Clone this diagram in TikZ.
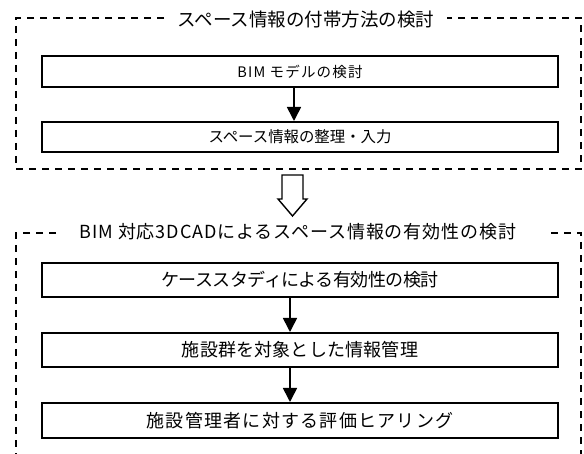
\documentclass[tikz,border=0pt]{standalone}
\usepackage{fontspec}
\newfontfamily\jp{Noto Sans CJK JP}
\usetikzlibrary{arrows.meta}
\tikzset{
  stepbox/.style={draw, line width=2pt, minimum width=516pt, inner sep=0pt, font=\jp},
  frameline/.style={line width=1.4pt, dash pattern=on 7pt off 6pt},
  flowarrow/.style={line width=1.6pt, -{Triangle[length=14pt,width=14pt]}},
  hollow/.style={line width=1.4pt, fill=white},
}
\begin{document}
\begin{tikzpicture}[x=1pt,y=-1pt]
\useasboundingbox[fill=white] (0,0) rectangle (584,454);

% frame 1
\draw[frameline] (164,18) -- (16,18) -- (16,169) -- (581,169) -- (581,18) -- (447,18);
\node[font={\jp\fontsize{18.5}{20}\selectfont}] (title1) at (306,19) {スペース情報の付帯方法の検討};

\node[stepbox, minimum height=31pt] (b1) at (300,71.5)
  {\fontsize{14.5}{16}\selectfont\addfontfeatures{LetterSpace=8}BIM モデルの検討};
\node[stepbox, minimum height=30pt] (b2) at (300,137)
  {\fontsize{15.4}{17}\selectfont スペース情報の整理・入力};
\draw[flowarrow] ([xshift=-6pt]b1.south) -- ([xshift=-6pt]b2.north);

% hollow arrow
\draw[hollow, line join=miter] (282,175) -- (303,175) -- (303,199) -- (307,199) -- (292.5,216) -- (278,199) -- (282,199) -- cycle;

% frame 2
\draw[frameline] (56,233) -- (16,233) -- (16,456);
\draw[frameline] (551,233) -- (581,233) -- (581,456);
\node[font={\jp\fontsize{18}{20}\selectfont}] (title2) at (298,232)
  {\addfontfeatures{LetterSpace=5}BIM 対応3DCADによるスペース情報の有効性の検討};

\node[stepbox, minimum height=34pt] (b3) at (300,280)
  {\fontsize{18}{20}\selectfont\addfontfeatures{LetterSpace=-3}ケーススタディによる有効性の検討};
\node[stepbox, minimum height=34pt] (b4) at (300,350)
  {\fontsize{18}{20}\selectfont\addfontfeatures{LetterSpace=1}施設群を対象とした情報管理};
\node[stepbox, minimum height=35pt] (b5) at (300,420.5)
  {\fontsize{18}{20}\selectfont\addfontfeatures{LetterSpace=7}施設管理者に対する評価ヒアリング};
\draw[flowarrow] ([xshift=-10pt]b3.south) -- ([xshift=-10pt]b4.north);
\draw[flowarrow] ([xshift=-10pt]b4.south) -- ([xshift=-10pt]b5.north);
\end{tikzpicture}
\end{document}
